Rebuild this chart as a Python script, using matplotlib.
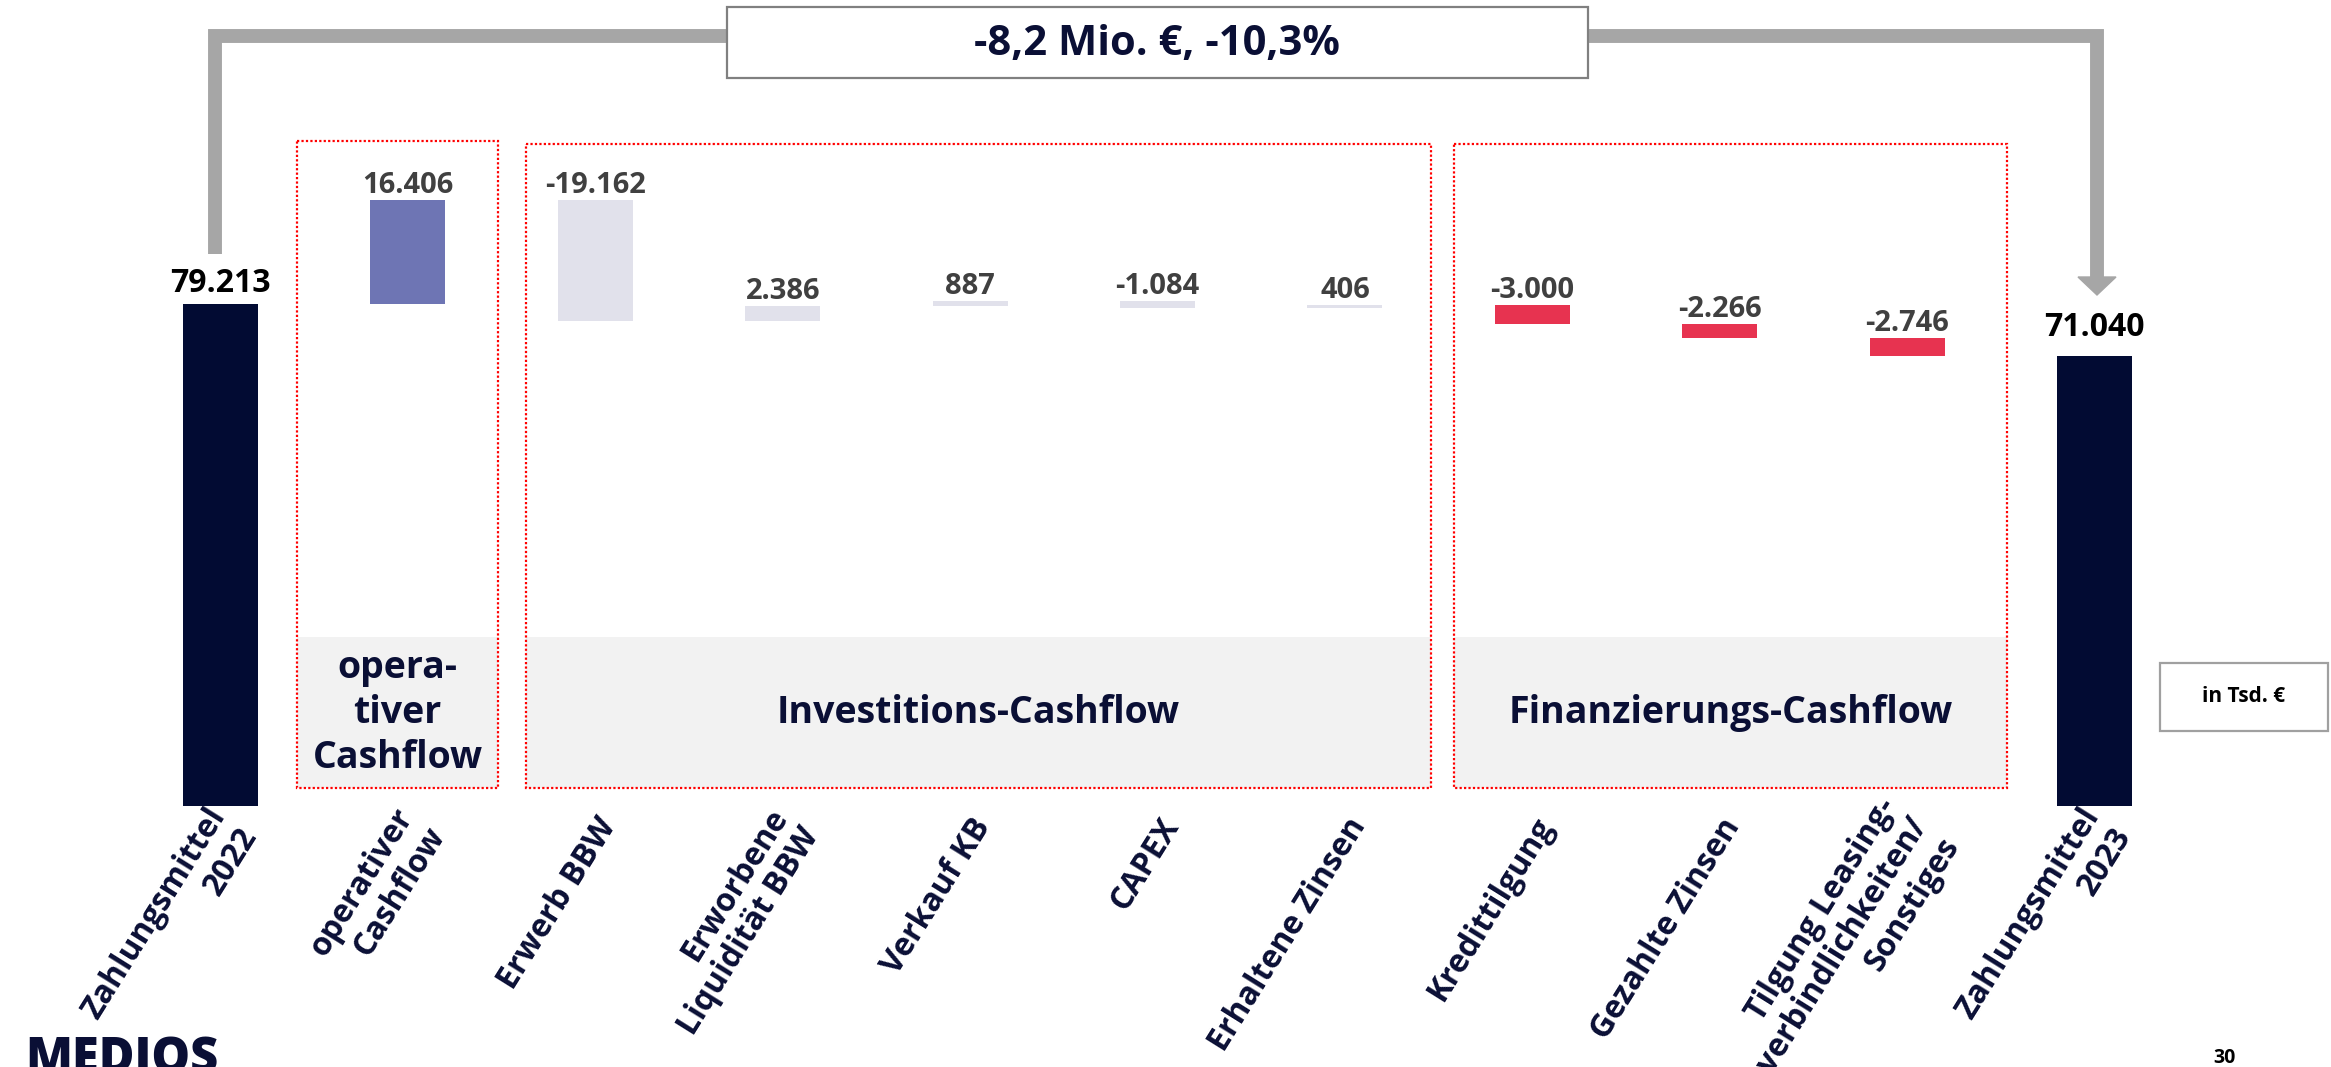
import matplotlib
matplotlib.use("Agg")
import matplotlib.pyplot as plt
from matplotlib.patches import Rectangle, Polygon

plt.rcParams['font.family'] = ['Open Sans', 'DejaVu Sans']

# ---- data -------------------------------------------------------------
categories = ["Zahlungsmittel\n2022", "operativer\nCashflow", "Erwerb BBW",
              "Erworbene\nLiquidität BBW", "Verkauf KB", "CAPEX",
              "Erhaltene Zinsen", "Kredittilgung", "Gezahlte Zinsen",
              "Tilgung Leasing-\nverbindlichkeiten/\nSonstiges",
              "Zahlungsmittel\n2023"]
start_value = 79213
deltas = [16406, -19162, 2386, 887, -1084, 406, -3000, -2266, -2746]
end_value = 71040
groups = ["opera-\ntiver\nCashflow", "Investitions-Cashflow", "Finanzierungs-Cashflow"]
headline = "-8,2 Mio. €, -10,3%"
unit = "in Tsd. €"

NAVY = '#020b33'
TEXT_NAVY = '#0a0f35'
C_OP = '#6e75b4'
C_INV = '#e1e1eb'
C_FIN = '#e73350'
GREY = '#a6a6a6'

W, H = 2331, 1067
X0, DX = 220.5, 187.4          # pixel of first bar centre, spacing
BASE, VPP = 806, 157.8         # baseline pixel, value per pixel

fig = plt.figure(figsize=(W / 100, H / 100), dpi=100)
ax = fig.add_axes([0, 0, 1, 1])
ax.set_xlim(-X0 / DX, (W - X0) / DX)
ax.set_ylim(-(H - BASE) * VPP, BASE * VPP)
ax.axis('off')

# overlay in pixel coordinates for the slide decorations
ov = fig.add_axes([0, 0, 1, 1], zorder=-1)
ov.set_xlim(0, W)
ov.set_ylim(H, 0)
ov.axis('off')


def fmt(v):
    return f"{v:,}".replace(",", ".")


# ---- waterfall --------------------------------------------------------
bottoms, heights, colors = [0], [start_value], [NAVY]
level = start_value
for k, d in enumerate(deltas):
    bottoms.append(level if d > 0 else level + d)
    heights.append(abs(d))
    colors.append(C_OP if k == 0 else (C_INV if k < 6 else C_FIN))
    level += d
bottoms.append(0)
heights.append(end_value)
colors.append(NAVY)

xs = list(range(len(categories)))
ax.bar(xs, heights, bottom=bottoms, width=0.4, color=colors, zorder=3)

values = [start_value] + deltas + [end_value]
gaps = [12] + [7] * len(deltas) + [20]
for i, v in enumerate(values):
    top = bottoms[i] + heights[i]
    total = i in (0, len(values) - 1)
    ax.text(i, top + gaps[i] * VPP, fmt(v), ha='center', va='baseline',
            fontsize=23 if total else 21, fontweight='bold',
            color='black' if total else '#404040', zorder=4)

for i, lab in enumerate(categories):
    ax.text(i + 14 / DX, -15 * VPP, lab, rotation=58, rotation_mode='anchor',
            ha='right', va='center', multialignment='right', linespacing=1.15,
            fontsize=23, fontweight='bold', color=TEXT_NAVY)

# ---- group boxes ------------------------------------------------------
boxes = [(297, 498, 141), (526, 1431, 144), (1454, 2007, 144)]
for (l, r, t), g in zip(boxes, groups):
    ov.add_patch(Rectangle((l, 637), r - l, 788 - 637, facecolor='#f2f2f2',
                           edgecolor='none'))
    ov.add_patch(Rectangle((l, t), r - l, 788 - t, facecolor='none',
                           edgecolor='#ff0000', lw=1.6, linestyle=(0, (1, 1))))
    ov.text((l + r) / 2, 713, g, ha='center', va='center', fontsize=27,
            fontweight='bold', color=TEXT_NAVY, linespacing=1.25)

# ---- connector and headline ------------------------------------------
ov.plot([215, 215, 727], [254, 36, 36], color=GREY, lw=10,
        solid_capstyle='butt', solid_joinstyle='miter')
ov.plot([1588, 2097, 2097], [36, 36, 278], color=GREY, lw=10,
        solid_capstyle='butt', solid_joinstyle='miter')
ov.add_patch(Polygon([(2078, 277), (2116, 277), (2097, 295)], color=GREY))
ov.add_patch(Rectangle((727, 7), 1588 - 727, 71, facecolor='white',
                       edgecolor='#808080', lw=1.6, zorder=3))
ov.text(1157, 45, headline, ha='center', va='center', fontsize=30,
        fontweight='bold', color=TEXT_NAVY, zorder=4)

ov.add_patch(Rectangle((2160, 663), 168, 68, facecolor='white',
                       edgecolor='#a0a0a0', lw=1.6))
ov.text(2244, 697, unit, ha='center', va='center', fontsize=15,
        fontweight='bold', color='black')

ov.text(2225, 1058, "30", ha='center', va='center', fontsize=14,
        fontweight='bold', color='black')
ov.text(25, 1073, "MEDIOS", ha='left', va='baseline', fontsize=35,
        fontweight='heavy', color=TEXT_NAVY)

fig.savefig("out.png", dpi=100)
